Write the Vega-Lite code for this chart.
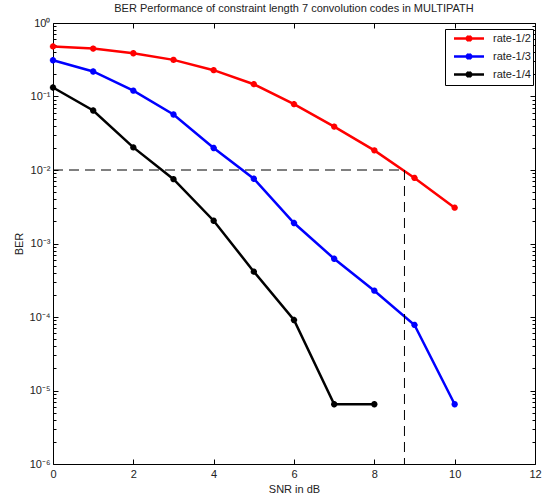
{
  "$schema": "https://vega.github.io/schema/vega-lite/v6.json",
  "width": 482,
  "height": 441,
  "autosize": "none",
  "padding": {"left": 53, "top": 23, "right": 7, "bottom": 33},
  "background": "white",
  "config": {
    "font": "Liberation Sans",
    "view": {"stroke": "black", "strokeWidth": 1},
    "axis": {"grid": false, "domain": false, "labelFont": "Liberation Sans", "titleFont": "Liberation Sans", "labelColor": "#222", "titleColor": "#222", "labelFontSize": 11, "titleFontSize": 11, "titleFontWeight": "normal", "tickColor": "black", "tickWidth": 1}
  },
  "datasets": {
    "guides": [
      {"x": 0, "y": 0.01, "x2": 8.75, "y2": 0.01},
      {"x": 8.75, "y": 0.01, "x2": 8.75, "y2": 0.000001}
    ]
  },
  "title": {"text": "BER Performance of constraint length 7 convolution codes in MULTIPATH", "fontSize": 11, "fontWeight": "normal", "font": "Liberation Sans", "color": "#222", "anchor": "middle", "frame": "group", "offset": 3},
  "layer": [
    {
      "data": {"values": [
        {"snr": 0, "ber": 0.48, "rate": "rate-1/2"},
        {"snr": 1, "ber": 0.449, "rate": "rate-1/2"},
        {"snr": 2, "ber": 0.388, "rate": "rate-1/2"},
        {"snr": 3, "ber": 0.315, "rate": "rate-1/2"},
        {"snr": 4, "ber": 0.228, "rate": "rate-1/2"},
        {"snr": 5, "ber": 0.147, "rate": "rate-1/2"},
        {"snr": 6, "ber": 0.0786, "rate": "rate-1/2"},
        {"snr": 7, "ber": 0.039, "rate": "rate-1/2"},
        {"snr": 8, "ber": 0.0185, "rate": "rate-1/2"},
        {"snr": 9, "ber": 0.0078, "rate": "rate-1/2"},
        {"snr": 10, "ber": 0.00307, "rate": "rate-1/2"},
        {"snr": 0, "ber": 0.311, "rate": "rate-1/3"},
        {"snr": 1, "ber": 0.219, "rate": "rate-1/3"},
        {"snr": 2, "ber": 0.12, "rate": "rate-1/3"},
        {"snr": 3, "ber": 0.0569, "rate": "rate-1/3"},
        {"snr": 4, "ber": 0.0199, "rate": "rate-1/3"},
        {"snr": 5, "ber": 0.0076, "rate": "rate-1/3"},
        {"snr": 6, "ber": 0.0019, "rate": "rate-1/3"},
        {"snr": 7, "ber": 0.00062, "rate": "rate-1/3"},
        {"snr": 8, "ber": 0.000228, "rate": "rate-1/3"},
        {"snr": 9, "ber": 0.000078, "rate": "rate-1/3"},
        {"snr": 10, "ber": 0.0000065, "rate": "rate-1/3"},
        {"snr": 0, "ber": 0.1325, "rate": "rate-1/4"},
        {"snr": 1, "ber": 0.0645, "rate": "rate-1/4"},
        {"snr": 2, "ber": 0.0203, "rate": "rate-1/4"},
        {"snr": 3, "ber": 0.0075, "rate": "rate-1/4"},
        {"snr": 4, "ber": 0.00204, "rate": "rate-1/4"},
        {"snr": 5, "ber": 0.000414, "rate": "rate-1/4"},
        {"snr": 6, "ber": 0.000091, "rate": "rate-1/4"},
        {"snr": 7, "ber": 0.0000065, "rate": "rate-1/4"},
        {"snr": 8, "ber": 0.0000065, "rate": "rate-1/4"}
      ]},
      "mark": {"type": "line", "strokeWidth": 2.5, "point": {"shape": "M-1,0H1M0,-1V1M-0.7,-0.7L0.7,0.7M-0.7,0.7L0.7,-0.7", "filled": false, "size": 40, "strokeWidth": 2}},
      "encoding": {
        "x": {"field": "snr", "type": "quantitative", "scale": {"domain": [0, 12], "nice": false},
              "axis": {"orient": "bottom", "offset": -5, "values": [0, 2, 4, 6, 8, 10, 12], "title": "SNR in dB", "tickSize": 5, "labelPadding": 4, "titlePadding": 4, "labelFlush": false}},
        "y": {"field": "ber", "type": "quantitative", "scale": {"type": "log", "domain": [0.000001, 1], "nice": false},
              "axis": {"orient": "left", "offset": -5, "title": "BER", "titlePadding": 5, "labelPadding": 3, "labelFlush": false, "tickSize": 5,
                "values": [1, 0.1, 0.01, 0.001, 0.0001, 0.00001, 0.000001],
                "labelExpr": "'10' + ['⁰','⁻¹','⁻²','⁻³','⁻⁴','⁻⁵','⁻⁶'][-round(log(datum.value)/LN10)]"}},
        "color": {"field": "rate", "type": "nominal", "scale": {"domain": ["rate-1/2", "rate-1/3", "rate-1/4"], "range": ["#ff0000", "#0000ff", "#000000"]},
                  "legend": {"title": null, "orient": "none", "legendX": 392, "legendY": 6, "strokeColor": "black", "fillColor": "white", "padding": 2, "labelFontSize": 11, "labelFont": "Liberation Sans", "labelColor": "#222", "symbolType": "M-2.5,0H2.5M0,-0.5V0.5M-0.4,-0.4L0.4,0.4M-0.4,0.4L0.4,-0.4", "symbolSize": 144, "symbolOffset": 14.5, "symbolStrokeWidth": 2.5, "rowPadding": 1, "labelOffset": 16.5, "cornerRadius": 0}}
      }
    },
    {
      "data": {"name": "guides"},
      "mark": {"type": "rule", "color": "black", "strokeWidth": 1, "strokeDash": [10, 6]},
      "encoding": {
        "x": {"field": "x", "type": "quantitative", "axis": {"orient": "top", "offset": -5, "values": [0, 2, 4, 6, 8, 10, 12], "labels": false, "title": null, "tickSize": 5}},
        "x2": {"field": "x2"},
        "y": {"field": "y", "type": "quantitative", "axis": {"orient": "right", "offset": -5, "labels": false, "title": null, "tickSize": 5,
                "values": [1, 0.1, 0.01, 0.001, 0.0001, 0.00001, 0.000001]}},
        "y2": {"field": "y2"}
      }
    },
    {
      "data": {"name": "guides"},
      "mark": {"type": "rule", "opacity": 0},
      "encoding": {
        "x": {"field": "x", "type": "quantitative", "axis": null},
        "x2": {"field": "x2"},
        "y": {"field": "y", "type": "quantitative", "axis": {"orient": "left", "offset": -3, "labels": false, "title": null, "tickSize": 3,
                "values": [2e-6, 3e-6, 4e-6, 5e-6, 6e-6, 7e-6, 8e-6, 9e-6, 2e-5, 3e-5, 4e-5, 5e-5, 6e-5, 7e-5, 8e-5, 9e-5, 2e-4, 3e-4, 4e-4, 5e-4, 6e-4, 7e-4, 8e-4, 9e-4, 0.002, 0.003, 0.004, 0.005, 0.006, 0.007, 0.008, 0.009, 0.02, 0.03, 0.04, 0.05, 0.06, 0.07, 0.08, 0.09, 0.2, 0.3, 0.4, 0.5, 0.6, 0.7, 0.8, 0.9]}},
        "y2": {"field": "y2"}
      }
    },
    {
      "data": {"name": "guides"},
      "mark": {"type": "rule", "opacity": 0},
      "encoding": {
        "x": {"field": "x", "type": "quantitative", "axis": null},
        "x2": {"field": "x2"},
        "y": {"field": "y", "type": "quantitative", "axis": {"orient": "right", "offset": -3, "labels": false, "title": null, "tickSize": 3,
                "values": [2e-6, 3e-6, 4e-6, 5e-6, 6e-6, 7e-6, 8e-6, 9e-6, 2e-5, 3e-5, 4e-5, 5e-5, 6e-5, 7e-5, 8e-5, 9e-5, 2e-4, 3e-4, 4e-4, 5e-4, 6e-4, 7e-4, 8e-4, 9e-4, 0.002, 0.003, 0.004, 0.005, 0.006, 0.007, 0.008, 0.009, 0.02, 0.03, 0.04, 0.05, 0.06, 0.07, 0.08, 0.09, 0.2, 0.3, 0.4, 0.5, 0.6, 0.7, 0.8, 0.9]}},
        "y2": {"field": "y2"}
      }
    }
  ],
  "resolve": {"axis": {"x": "independent", "y": "independent"}}
}
